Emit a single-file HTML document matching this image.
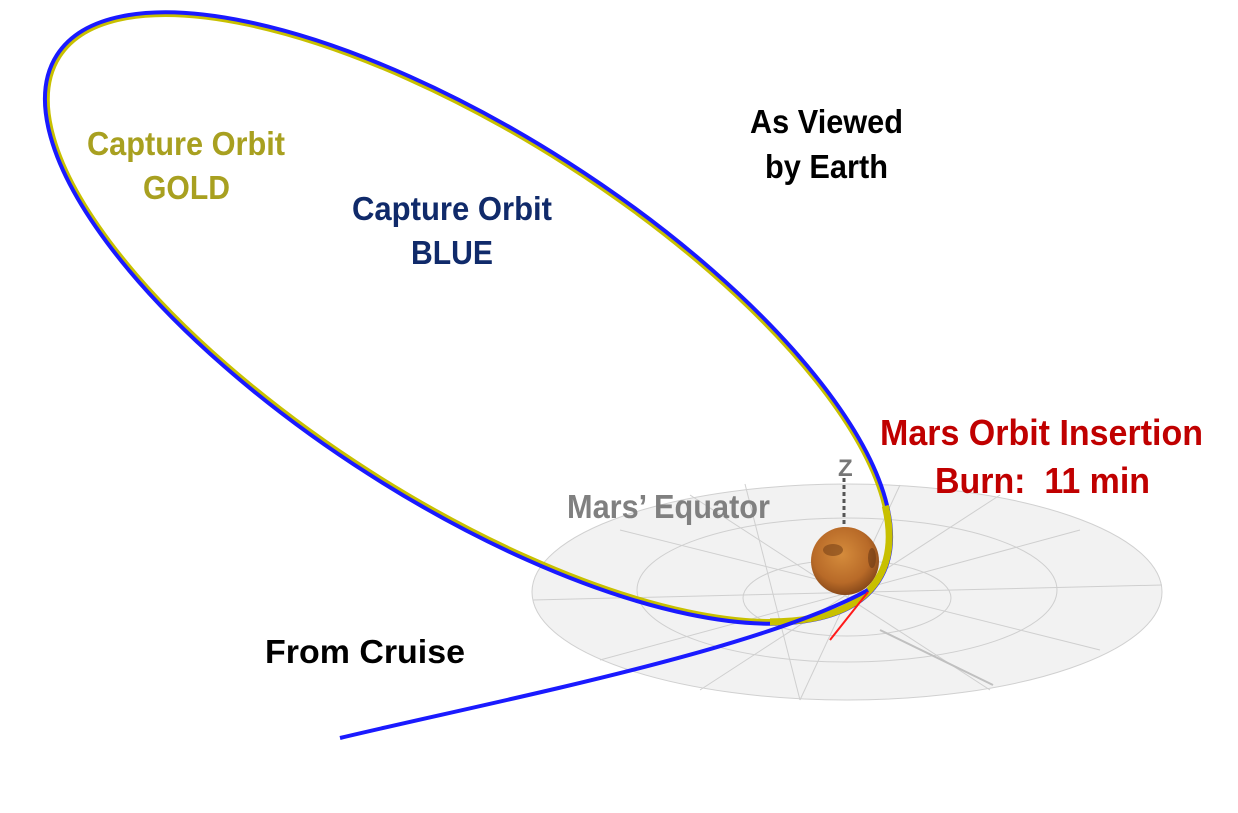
<!DOCTYPE html>
<html><head><meta charset="utf-8"><style>
html,body{margin:0;padding:0;background:#fff;}
svg{display:block;}
text{font-family:"Liberation Sans",sans-serif;font-weight:bold;}
</style></head><body>
<svg width="1238" height="813" viewBox="0 0 1238 813" xmlns="http://www.w3.org/2000/svg">
<defs>
<radialGradient id="m" cx="45%" cy="40%" r="60%"><stop offset="0" stop-color="#d58c3c"/><stop offset="0.7" stop-color="#b86a28"/><stop offset="1" stop-color="#8a4a1a"/></radialGradient>
<clipPath id="peri"><polygon points="770,540 905,500 905,640 770,640"/></clipPath>
</defs>
<ellipse cx="847" cy="592" rx="315" ry="108" fill="#f2f2f2" stroke="#d0d0d0" stroke-width="1"/>
<ellipse cx="847" cy="590" rx="210" ry="72" fill="none" stroke="#cfcfcf" stroke-width="1"/>
<ellipse cx="847" cy="598" rx="104" ry="38" fill="none" stroke="#cfcfcf" stroke-width="1"/>
<g stroke="#cfcfcf" stroke-width="1">
<line x1="533" y1="600" x2="1162" y2="585"/>
<line x1="745" y1="484" x2="800" y2="700"/>
<line x1="900" y1="485" x2="800" y2="700"/>
<line x1="620" y1="530" x2="1100" y2="650"/>
<line x1="1080" y1="530" x2="600" y2="660"/>
<line x1="1000" y1="495" x2="700" y2="690"/>
<line x1="690" y1="495" x2="990" y2="690"/>
</g>
<line x1="880" y1="630" x2="993" y2="685" stroke="#c0c0c0" stroke-width="2"/>
<line x1="844" y1="478" x2="844" y2="540" stroke="#555" stroke-width="3" stroke-dasharray="4,3"/>
<text x="838" y="476" font-size="24" fill="#777" font-weight="normal">Z</text>
<circle cx="845" cy="561" r="34" fill="url(#m)"/>
<ellipse cx="833" cy="550" rx="10" ry="6" fill="#7a4218" opacity="0.6"/>
<ellipse cx="872" cy="558" rx="4" ry="10" fill="#6a3814" opacity="0.6"/>
<g transform="rotate(32.6 468 318)">
<ellipse cx="468" cy="318" rx="485" ry="182" fill="none" stroke="#c8c000" stroke-width="4"/>
<ellipse cx="468" cy="318" rx="488" ry="185" fill="none" stroke="#1a1aff" stroke-width="4"/>
</g>
<g clip-path="url(#peri)">
<g transform="rotate(32.6 468 318)">
<ellipse cx="468" cy="318" rx="486" ry="183" fill="none" stroke="#c8c000" stroke-width="7"/>
</g>
</g>
<path d="M340,738 C500,700 760,650 868,590" fill="none" stroke="#1a1aff" stroke-width="4"/>
<line x1="868" y1="592" x2="830" y2="640" stroke="#ff1a1a" stroke-width="2"/>
<text x="87" y="155" font-size="33" fill="#a8a020" textLength="198" lengthAdjust="spacingAndGlyphs">Capture Orbit</text>
<text x="143" y="199" font-size="33" fill="#a8a020" textLength="87" lengthAdjust="spacingAndGlyphs">GOLD</text>
<text x="352" y="220" font-size="33" fill="#102a6a" textLength="200" lengthAdjust="spacingAndGlyphs">Capture Orbit</text>
<text x="411" y="264" font-size="33" fill="#102a6a" textLength="82" lengthAdjust="spacingAndGlyphs">BLUE</text>
<text x="750" y="133" font-size="33" fill="#000" textLength="153" lengthAdjust="spacingAndGlyphs">As Viewed</text>
<text x="765" y="178" font-size="33" fill="#000" textLength="123" lengthAdjust="spacingAndGlyphs">by Earth</text>
<text x="880" y="445" font-size="36" fill="#c00000" textLength="323" lengthAdjust="spacingAndGlyphs">Mars Orbit Insertion</text>
<text x="935" y="493" font-size="36" fill="#c00000" textLength="215" lengthAdjust="spacingAndGlyphs" xml:space="preserve">Burn:  11 min</text>
<text x="567" y="518" font-size="33" fill="#808080" textLength="203" lengthAdjust="spacingAndGlyphs">Mars’ Equator</text>
<text x="265" y="663" font-size="33" fill="#000" textLength="200" lengthAdjust="spacingAndGlyphs">From Cruise</text>
</svg>
</body></html>
